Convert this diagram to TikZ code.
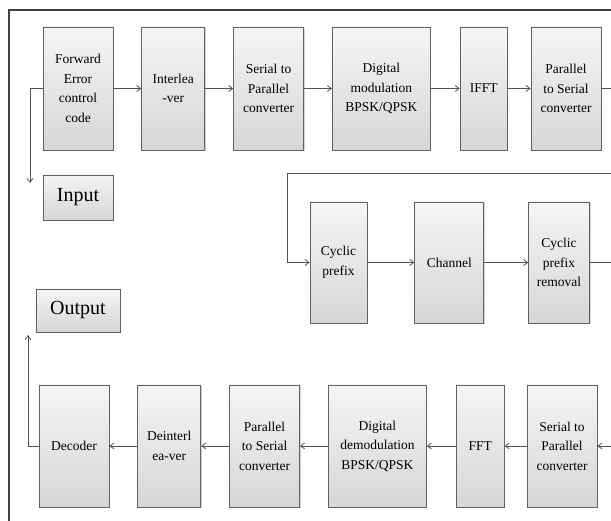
\documentclass[tikz,border=0pt]{standalone}
\usepackage{fontspec}
\setmainfont{Liberation Serif}
\usetikzlibrary{arrows.meta,positioning,calc,shadows}
\colorlet{boxline}{black!62}
\colorlet{wireline}{black!68}

\begin{document}
\begin{tikzpicture}[x=1pt,y=1pt,
every node/.style={font=\fontsize{13.5}{19.5}\selectfont},
block/.style={draw=boxline,thick,align=center,inner sep=1pt,top color=gray!8,bottom color=gray!32,
  drop shadow={shadow xshift=1pt,shadow yshift=-1.5pt,opacity=0.35}},
upper/.style={block,minimum height=123pt},
middle/.style={block,minimum height=121pt},
lower/.style={block,minimum height=122pt},
io/.style={block,font=\fontsize{20}{22}\selectfont},
arr/.style={-{Straight Barb[length=4pt,width=6pt]},draw=wireline,thick},
frameline/.style={draw=black!75,line width=1.6pt}
]
\useasboundingbox (0,0) rectangle (611,521);
\draw[frameline] (9,0) |- (611,511);

% transmitter
\node[upper,minimum width=70pt] (fec) at (78,432.5) {Forward\\Error\\control\\code};
\node[upper,minimum width=63pt,right=28pt of fec] (ilv) {Interlea\\-ver};
\node[upper,minimum width=70pt,right=28pt of ilv] (stp) {Serial to\\Parallel\\converter};
\node[upper,minimum width=98pt,right=28pt of stp] (mod) {Digital\\modulation\\BPSK/QPSK};
\node[upper,minimum width=47pt,right=29pt of mod] (ifft) {IFFT};
\node[upper,minimum width=70pt,right=23pt of ifft] (pts) {Parallel\\to Serial\\converter};

\node[io,minimum width=70pt,minimum height=45pt] (input) at (78,323.5) {Input};
\node[io,minimum width=84pt,minimum height=43pt] (output) at (78,210.5) {Output};

% channel
\node[middle,minimum width=57pt] (cp) at (338.5,258.5) {Cyclic\\prefix};
\node[middle,minimum width=69pt,right=47pt of cp] (chan) {Channel};
\node[middle,minimum width=61pt,right=44pt of chan] (cpr) {Cyclic\\prefix\\removal};

% receiver
\node[lower,minimum width=70pt] (rstp) at (562,75) {Serial to\\Parallel\\converter};
\node[lower,minimum width=48pt,left=22pt of rstp] (fft) {FFT};
\node[lower,minimum width=98pt,left=29pt of fft] (demod) {Digital\\demodulation\\BPSK/QPSK};
\node[lower,minimum width=70pt,left=28pt of demod] (rpts) {Parallel\\to Serial\\converter};
\node[lower,minimum width=63pt,left=28pt of rpts] (dilv) {Deinterl\\ea-ver};
\node[lower,minimum width=70pt,left=28pt of dilv] (dec) {Decoder};

\coordinate (inend) at (30,338);
\coordinate (outend) at (28,186);

\draw[arr] (fec) -- (ilv);
\draw[arr] (ilv) -- (stp);
\draw[arr] (stp) -- (mod);
\draw[arr] (mod) -- (ifft);
\draw[arr] (ifft) -- (pts);
\draw[arr] (fec.west) -| (inend);
\draw[arr] (pts.east) -- ++(11,0) -- ++(0,-84.5) -| ($(cp.west)+(-22,0)$) -- (cp.west);
\draw[arr] (cp) -- (chan);
\draw[arr] (chan) -- (cpr);
\draw[arr] (cpr.east) -- ++(22,0) |- (rstp.east);
\draw[arr] (rstp) -- (fft);
\draw[arr] (fft) -- (demod);
\draw[arr] (demod) -- (rpts);
\draw[arr] (rpts) -- (dilv);
\draw[arr] (dilv) -- (dec);
\draw[arr] (dec.west) -| (outend);
\end{tikzpicture}
\end{document}
